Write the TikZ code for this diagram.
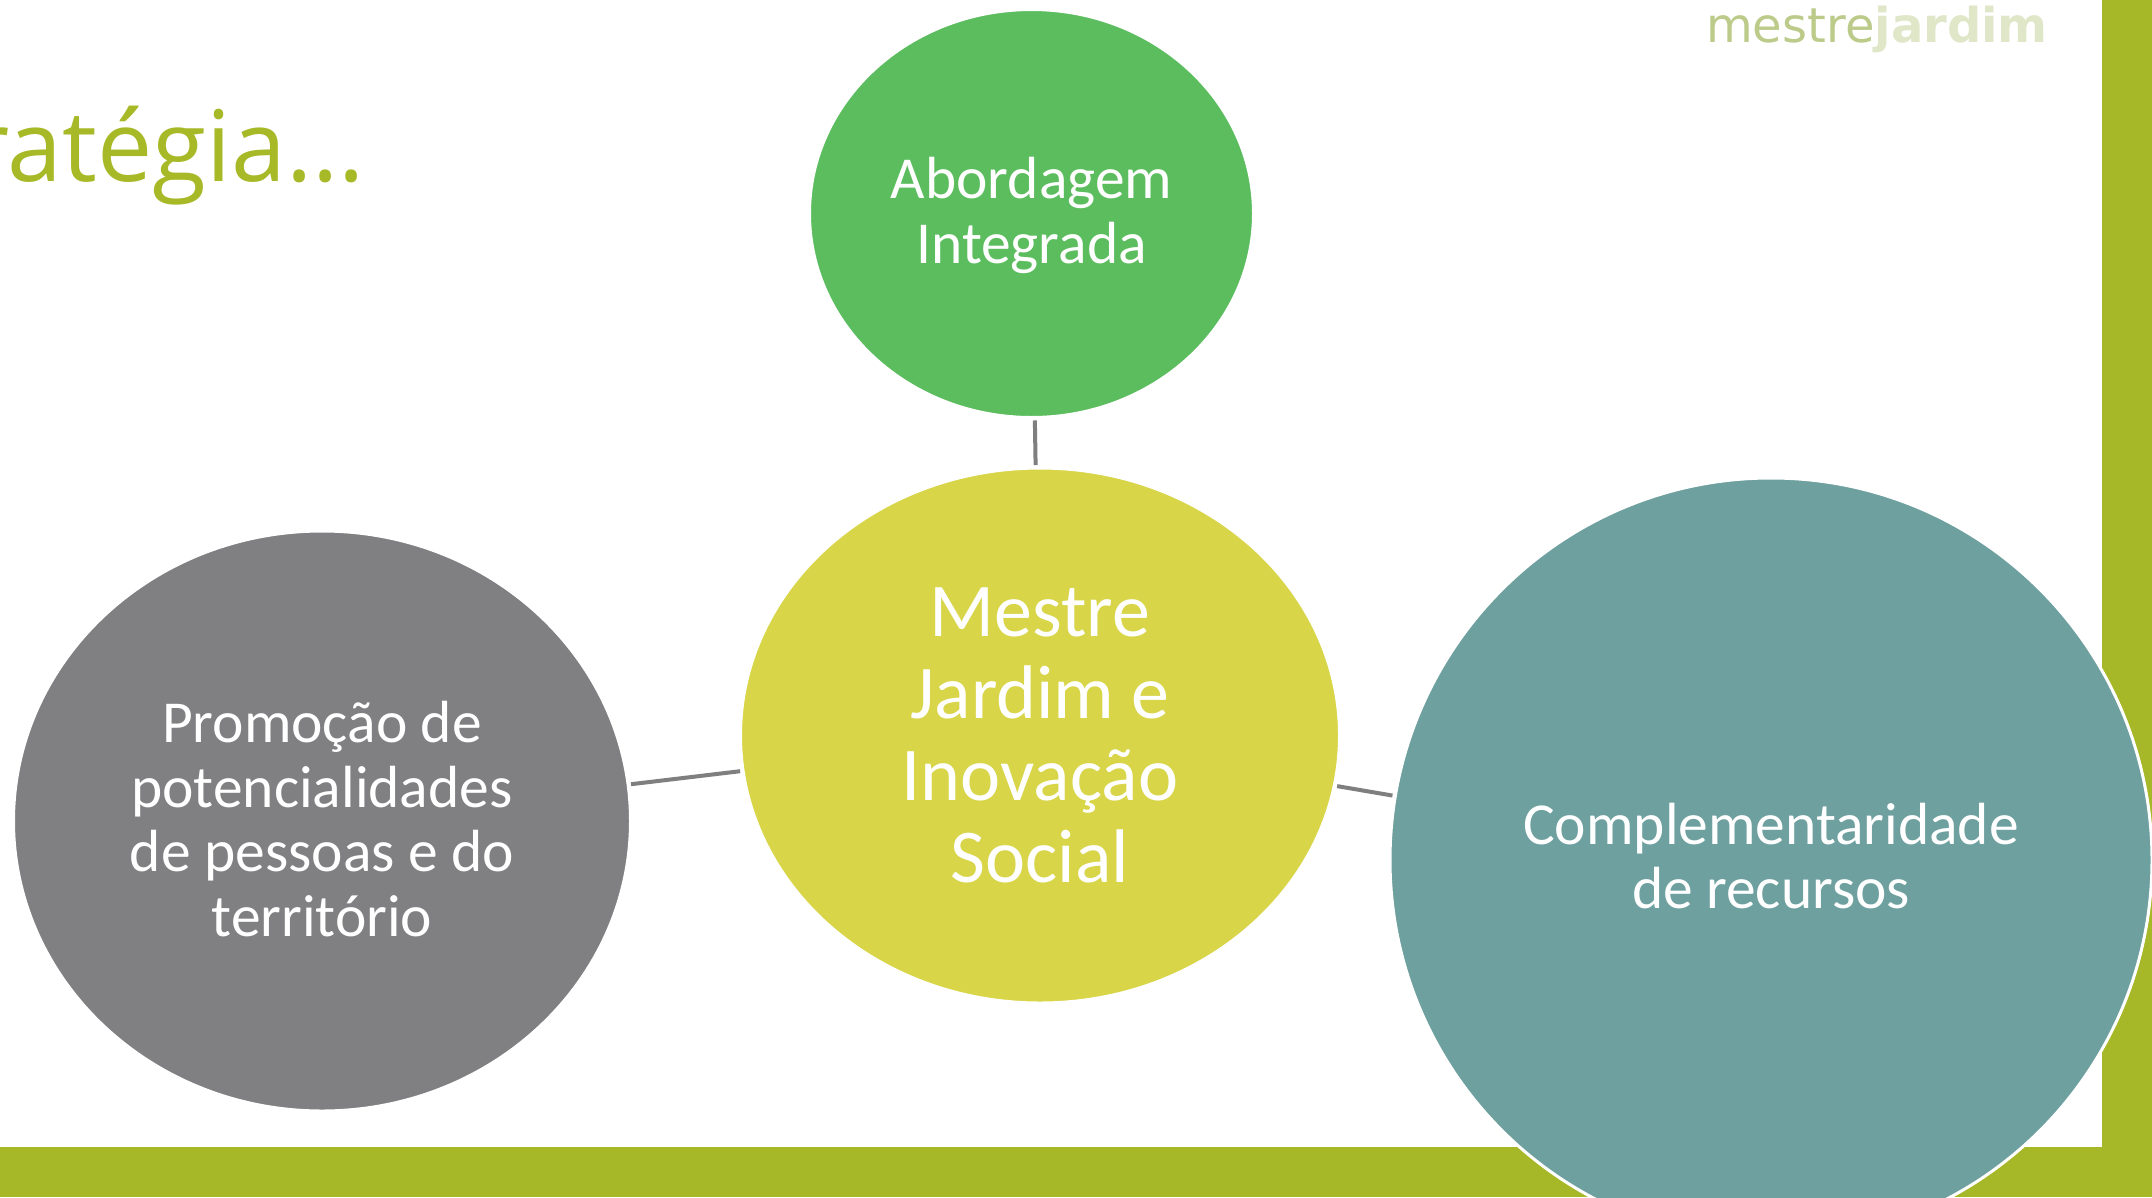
\documentclass[tikz,border=0pt]{standalone}
\usepackage{fontspec}
\usetikzlibrary{shapes.geometric}
\setmainfont{Carlito}
\newfontfamily\logofont{DejaVu Sans}
\newfontfamily\titlefont{Open Sans}
\definecolor{barc}{HTML}{A6B727}
\definecolor{titlec}{HTML}{A8B928}
\definecolor{topc}{HTML}{5CBD5F}
\definecolor{cenc}{HTML}{D8D548}
\definecolor{leftc}{HTML}{808082}
\definecolor{rightc}{HTML}{6DA09F}
\definecolor{linec}{HTML}{7F7F7F}
\definecolor{logoa}{HTML}{BCCB8A}
\definecolor{logob}{HTML}{E0E7C8}
\tikzset{
 bubble/.style={ellipse,draw=white,line width=3pt,inner sep=0pt,outer sep=3pt,text=white,align=center},
 smalltext/.style={font=\fontsize{59.5}{64.5}\selectfont},
 bigtext/.style={font=\fontsize{76}{82}\selectfont},
 link/.style={draw=linec,line width=4pt}
}
\begin{document}
\begin{tikzpicture}[x=1pt,y=-1pt]
\useasboundingbox (0,0) rectangle (2152,1197);
\fill[white] (0,0) rectangle (2152,1197);
\fill[barc] (2102,0) rectangle (2152,1197);
\fill[barc] (0,1147) rectangle (2152,1197);
\node[anchor=base east,text=titlec,inner sep=0pt,font=\titlefont\fontsize{98.5}{110}\selectfont] (title) at (365,181) {ratégia...};
\node[anchor=base west,inner sep=0pt,font=\logofont\fontsize{48}{48}\selectfont] (logo) at (1706,42) {\textcolor{logoa}{mestre}\textcolor{logob}{\bfseries jardim}};
\node[bubble,fill=topc,smalltext,minimum width=444pt,minimum height=408pt] (top) at (1031.5,213.5) {\rule{0pt}{45pt}Abordagem\\Integrada};
\node[bubble,fill=cenc,bigtext,minimum width=599pt,minimum height=535pt] (cen) at (1040,735.5) {Mestre\\Jardim e\\Inovação\\Social};
\node[bubble,fill=leftc,smalltext,minimum width=617pt,minimum height=580pt] (lft) at (322,821) {Promoção de\\potencialidades\\de pessoas e do\\território\rule[-4pt]{0pt}{4pt}};
\node[bubble,fill=rightc,smalltext,minimum width=762pt,minimum height=764pt] (rgt) at (1771,860) {Complementaridade\\de recursos\rule[-8pt]{0pt}{8pt}};
\draw[link] (cen) -- (top);
\draw[link] (cen) -- (lft);
\draw[link] (cen) -- (rgt);
\end{tikzpicture}
\end{document}
